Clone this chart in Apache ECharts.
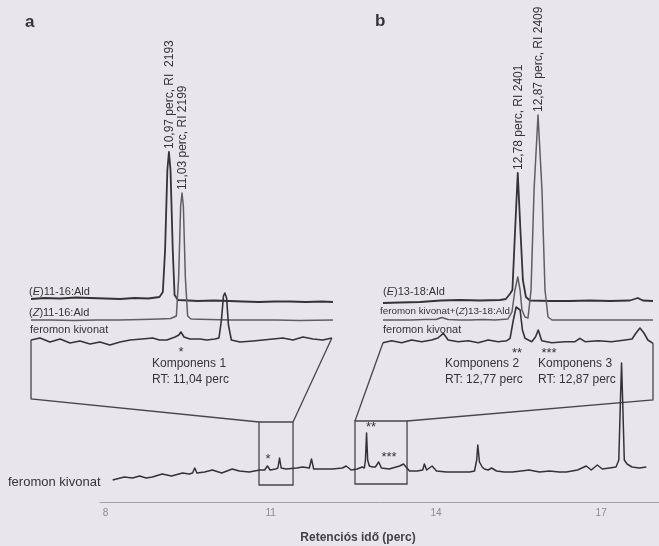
<!DOCTYPE html>
<html>
<head>
<meta charset="utf-8">
<title>feromon kivonat GC</title>
<script src="https://cdn.jsdelivr.net/npm/echarts@6/dist/echarts.min.js"></script>
<style>
  html, body { margin: 0; padding: 0; background: #e8e6ec; }
  #chart { width: 659px; height: 546px; }
</style>
</head>
<body>
<div id="chart"></div>
<script>
// retention time (perc) / detector signal (arbitrary units)

// full run, feromon kivonat
const mainTrace = [
  [8.13,10],[8.34,13],[8.49,12],[8.62,14],[8.74,12],[8.85,13],[9.03,16],[9.20,14],[9.40,17],[9.52,16],
  [9.58,17],[9.62,22],[9.66,17],[9.80,18],[9.94,20],[10.11,17],[10.30,21],[10.43,19],[10.61,18],[10.80,20],
  [10.89,20],[10.94,24],[10.99,20],[11.09,21],[11.13,22],[11.16,32],[11.19,22],[11.28,21],[11.47,22],[11.58,23],
  [11.70,22],[11.74,31],[11.78,21],[11.92,21],[12.12,21],[12.30,22],[12.37,24],[12.46,20],[12.57,21],[12.66,23],
  [12.70,22],[12.72,30],[12.74,57],[12.76,30],[12.79,24],[12.85,23],[12.90,23],[12.96,28],[13.01,22],[13.15,21],
  [13.34,24],[13.41,26],[13.52,19],[13.66,19],[13.76,20],[13.79,26],[13.83,20],[13.93,24],[14.01,19],[14.19,18],
  [14.42,18],[14.61,18],[14.70,19],[14.74,30],[14.76,45],[14.79,28],[14.84,23],[14.88,21],[14.95,20],[15.01,22],
  [15.10,19],[15.24,18],[15.39,18],[15.55,19],[15.69,20],[15.88,18],[16.06,19],[16.24,18],[16.37,18],[16.57,20],
  [16.73,24],[16.82,20],[16.93,25],[17.02,21],[17.15,22],[17.27,23],[17.32,30],[17.35,90],[17.37,127],[17.39,90],
  [17.42,30],[17.47,26],[17.56,23],[17.69,22],[17.82,23]
];

// inset a
const eAld1116 = [
  [10.36,11],[10.42,12],[10.49,11.5],[10.56,12.5],[10.62,12],[10.69,11.5],[10.755,11],[10.82,12],[10.88,11.5],
  [10.93,13],[10.945,18],[10.955,60],[10.965,140],[10.972,158],[10.979,140],[10.989,60],[10.997,15],[11.012,10],
  [11.06,9.5],[11.10,9],[11.17,9.5],[11.24,9],[11.30,8.5],[11.37,8],[11.44,8.5],[11.51,8.5],[11.58,8],[11.65,8.5],[11.70,8]
];
const zAld1116 = [
  [10.36,8],[10.45,8],[10.55,7.5],[10.65,8],[10.75,8],[10.85,8.5],[10.93,9],[10.98,9.5],[11.005,12],[11.015,50],
  [11.024,122],[11.03,135],[11.036,122],[11.045,50],[11.055,12],[11.07,9],[11.15,8.5],[11.25,8],[11.35,8],
  [11.45,8],[11.55,7.5],[11.70,8]
];
const extractA = [
  [10.36,10],[10.40,12],[10.444,8],[10.489,11],[10.533,7],[10.577,9],[10.622,6],[10.666,8],[10.71,5],[10.755,8],
  [10.80,10],[10.852,11],[10.90,12],[10.93,10],[10.963,10],[10.999,13],[11.016,15],[11.025,18],[11.039,13],
  [11.065,11],[11.11,11],[11.14,10],[11.176,11],[11.194,12],[11.205,30],[11.214,54],[11.22,57],[11.228,52],
  [11.236,25],[11.249,10],[11.287,8],[11.345,9],[11.39,10],[11.434,11],[11.478,12],[11.522,10],[11.567,13],
  [11.611,11],[11.655,10],[11.695,12]
];

// inset b
const eAld1318 = [
  [12.20,7],[12.273,7.5],[12.359,8],[12.449,9.5],[12.531,10],[12.617,9.5],[12.703,10],[12.728,11],[12.745,16],
  [12.756,20],[12.767,77],[12.779,137],[12.791,77],[12.801,30],[12.814,13],[12.831,9.5],[12.917,9],[13.003,9],
  [13.089,9.5],[13.175,9],[13.261,9.5],[13.295,12],[13.316,9.5],[13.36,9]
];
const extractPlusZ = [
  [12.20,8],[12.26,8],[12.316,8],[12.38,8.5],[12.428,8.5],[12.453,10.5],[12.479,8.5],[12.53,8],[12.574,8],
  [12.63,8.5],[12.681,8],[12.737,9],[12.754,16],[12.767,38],[12.779,51],[12.789,38],[12.797,18],[12.81,11],
  [12.823,10],[12.836,38],[12.849,138],[12.866,213],[12.883,138],[12.896,38],[12.909,11],[12.926,8],[12.99,8],
  [13.046,8],[13.11,8],[13.175,8],[13.24,8],[13.304,8],[13.36,8]
];
const extractB = [
  [12.20,12.3],[12.237,14.3],[12.28,12.3],[12.323,15],[12.366,13.3],[12.409,15],[12.436,17],[12.459,21.7],
  [12.48,15],[12.523,13.3],[12.566,14.3],[12.609,12.3],[12.652,15],[12.695,13.3],[12.732,14.3],[12.746,16.7],
  [12.76,35],[12.772,48],[12.78,50],[12.789,45],[12.799,25],[12.81,16.7],[12.839,13.3],[12.855,18],[12.867,25],
  [12.882,14.3],[12.925,12.3],[12.982,13.3],[13.025,13.3],[13.046,16.7],[13.068,13.3],[13.125,14.3],[13.182,13.3],
  [13.24,15],[13.27,16],[13.287,22],[13.304,27],[13.321,22],[13.338,15],[13.36,11.7]
];

const tickLabels = [8, 11, 14, 17];
// zoom windows on the full run: [t, signal] corners
const zoomBoxA = [[10.787, 68], [11.405, 5]];
const zoomBoxB = [[12.53, 69], [13.475, 6]];

const INK = '#343337';
const GREY_INK = '#5f5e63';
const FRAME = '#47464b';
const TEXT = '#353438';
const FONT = '"Liberation Sans", Arial, sans-serif';

const chart = echarts.init(document.getElementById('chart'));

const grids = [
  {left: 100, width: 559, top: 360, height: 142},  // full run
  {left: 31, width: 302, top: 60, height: 250},    // a (E)
  {left: 31, width: 302, top: 78, height: 250},    // a (Z)
  {left: 31, width: 302, top: 100, height: 250},   // a extract
  {left: 383, width: 270, top: 60, height: 250},   // b (E)
  {left: 383, width: 270, top: 78, height: 250},   // b extract+(Z)
  {left: 383, width: 270, top: 105, height: 250}   // b extract
];
const xRanges = [[7.9, 18.05], [10.36, 11.70], [10.36, 11.70], [10.36, 11.70], [12.20, 13.36], [12.20, 13.36], [12.20, 13.36]];

const xAxes = xRanges.map((r, i) => ({
  gridIndex: i, type: 'value', min: r[0], max: r[1], show: false
}));
xAxes[0] = {
  gridIndex: 0, type: 'value', min: 7.9, max: 18.05,
  axisLine: {onZero: false, lineStyle: {color: '#a3a1a8', width: 1}},
  axisTick: {show: false},
  splitLine: {show: false},
  axisLabel: {customValues: tickLabels, color: '#8d8b92', fontSize: 10, margin: 6, fontFamily: FONT}
};
const yAxes = grids.map((g, i) => ({
  gridIndex: i, type: 'value', min: i === 0 ? -12 : 0, max: i === 0 ? 130 : 250, show: false
}));

function trace(i, data, color, width) {
  return {
    type: 'line', xAxisIndex: i, yAxisIndex: i, data: data,
    symbol: 'none', silent: true, animation: false,
    lineStyle: {color: color, width: width, join: 'round'}
  };
}

const series = [
  trace(0, mainTrace, INK, 1.5),
  trace(1, eAld1116, INK, 1.8),
  trace(2, zAld1116, GREY_INK, 1.5),
  trace(3, extractA, INK, 1.6),
  trace(4, eAld1318, INK, 1.8),
  trace(5, extractPlusZ, GREY_INK, 1.5),
  trace(6, extractB, INK, 1.6)
];
series[0].markArea = {
  silent: true,
  itemStyle: {color: 'rgba(0,0,0,0)', borderColor: FRAME, borderWidth: 1.3},
  data: [
    [{coord: zoomBoxA[0]}, {coord: zoomBoxA[1]}],
    [{coord: zoomBoxB[0]}, {coord: zoomBoxB[1]}]
  ]
};

chart.setOption({
  backgroundColor: '#e8e6ec',
  animation: false,
  grid: grids,
  xAxis: xAxes,
  yAxis: yAxes,
  series: series
});

// overlays: zoom frames, peak labels, texts
const px = (g, p) => chart.convertToPixel({gridIndex: g}, p);

const frames = [
  [px(3, [10.36, 10]), px(3, [10.36, -49]), px(0, zoomBoxA[0])],
  [px(3, [11.695, 12]), px(0, [zoomBoxA[1][0], zoomBoxA[0][1]])],
  [px(6, [12.20, 12.3]), px(0, zoomBoxB[0])],
  [px(6, [13.36, 11.7]), px(6, [13.36, -45]), px(0, [zoomBoxB[1][0], zoomBoxB[0][1]])]
];

const peakLabels = [
  {grid: 1, at: [10.972, 158], text: '10,97 perc, RI  2193'},
  {grid: 2, at: [11.03, 135], text: '11,03 perc, RI 2199'},
  {grid: 4, at: [12.779, 137], text: '12,78 perc, RI 2401'},
  {grid: 5, at: [12.866, 213], text: '12,87 perc, RI 2409'}
];

function txt(x, y, text, size, opts) {
  return {
    type: 'text', x: x, y: y, silent: true,
    style: Object.assign({text: text, fill: TEXT, fontSize: size, fontFamily: FONT, verticalAlign: 'middle', align: 'left'}, opts || {})
  };
}
function italicLabel(x, y, pre, it, post, size) {
  return {
    type: 'text', x: x, y: y, silent: true,
    style: {
      text: pre + '{i|' + it + '}' + post, fill: TEXT, fontSize: size, fontFamily: FONT,
      verticalAlign: 'middle', align: 'left',
      rich: {i: {fontStyle: 'italic', fontSize: size, fontFamily: FONT, fill: TEXT}}
    }
  };
}

const elements = [];
frames.forEach(pts => elements.push({
  type: 'polyline', silent: true, shape: {points: pts},
  style: {stroke: FRAME, lineWidth: 1.3, fill: null}
}));
peakLabels.forEach(p => {
  const q = px(p.grid, p.at);
  elements.push({
    type: 'text', x: q[0] + 1, y: q[1] - 3, rotation: Math.PI / 2, silent: true,
    style: {text: p.text, fill: TEXT, fontSize: 12, fontFamily: FONT, align: 'left', verticalAlign: 'middle'}
  });
});

const star = {fontSize: 13, align: 'center'};
elements.push(
  txt(25, 22, 'a', 17, {fontWeight: 'bold'}),
  txt(375, 21, 'b', 17, {fontWeight: 'bold'}),
  italicLabel(29, 292, '(', 'E', ')11-16:Ald', 11),
  italicLabel(29, 313, '(', 'Z', ')11-16:Ald', 11),
  txt(30, 329.5, 'feromon kivonat', 11),
  italicLabel(383, 292, '(', 'E', ')13-18:Ald', 11),
  italicLabel(380, 311, 'feromon kivonat+(', 'Z', ')13-18:Ald', 9.8),
  txt(383, 330, 'feromon kivonat', 11),
  txt(8, 482, 'feromon kivonat', 13),
  txt(181, 352, '*', 13, star),
  txt(152, 364, 'Komponens 1', 12),
  txt(152, 380, 'RT: 11,04 perc', 12),
  txt(517, 353, '**', 13, star),
  txt(549, 353, '***', 13, star),
  txt(445, 364, 'Komponens 2', 12),
  txt(445, 380, 'RT: 12,77 perc', 12),
  txt(538, 364, 'Komponens 3', 12),
  txt(538, 380, 'RT: 12,87 perc', 12),
  txt(268, 459, '*', 13, star),
  txt(371, 427, '**', 13, star),
  txt(389, 457, '***', 13, star),
  txt(358, 538, 'Retenciós idő (perc)', 12, {fill: '#434247', fontWeight: 'bold', align: 'center'})
);

chart.setOption({graphic: {elements: elements}});
</script>
</body>
</html>
